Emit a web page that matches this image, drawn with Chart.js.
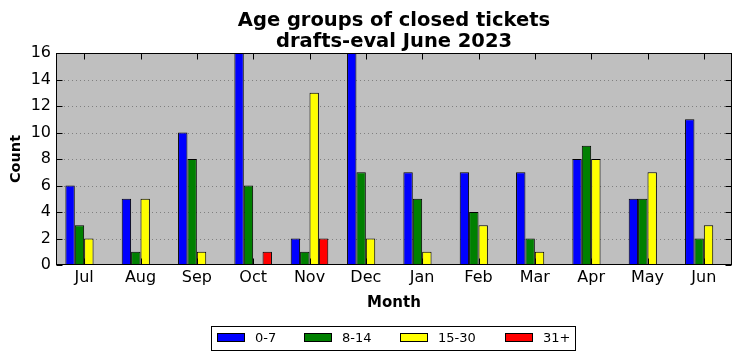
<!DOCTYPE html>
<html><head><meta charset="utf-8">
<script src="https://cdn.jsdelivr.net/npm/chart.js@4"></script>
<style>html,body{margin:0;padding:0;background:#fff;overflow:hidden}</style>
</head><body>
<canvas id="c" width="741" height="361" style="display:block;width:741px;height:361px"></canvas>
<script>
const months = ['Jul','Aug','Sep','Oct','Nov','Dec','Jan','Feb','Mar','Apr','May','Jun'];
const age0to7   = [6,5,10,16,2,16,7,7,7,8,5,11];
const age8to14  = [3,1,8,6,1,7,5,4,2,9,5,2];
const age15to30 = [2,5,1,0,13,2,1,3,1,8,7,3];
const age31plus = [0,0,0,1,2,0,0,0,0,0,0,0];
const seriesLabels = ['0-7','8-14','15-30','31+'];
const seriesColors = ['#0000ff','#008000','#ffff00','#ff0000'];
const yTicks = [0,2,4,6,8,10,12,14,16];
const titleLines = ['Age groups of closed tickets','drafts-eval June 2023'];

const FONT = '"DejaVu Sans", sans-serif';

const deco = {
  id: 'deco',
  beforeDraw(chart) {
    const {ctx, chartArea: a} = chart;
    ctx.save();
    ctx.fillStyle = '#fff';
    ctx.fillRect(0,0,chart.width,chart.height);
    ctx.fillStyle = '#bfbfbf';
    ctx.fillRect(a.left, a.top, a.right - a.left, a.bottom - a.top);
    ctx.restore();
  },
  beforeDatasetsDraw(chart) {
    const {ctx, chartArea: a, scales: {y}} = chart;
    ctx.save();
    ctx.strokeStyle = 'rgba(0,0,0,0.33)';
    ctx.lineWidth = 1;
    ctx.setLineDash([1,3]);
    yTicks.forEach(v => {
      if (v === 0 || v === 16) return;
      const py = Math.round(y.getPixelForValue(v)) + 0.5;
      ctx.beginPath(); ctx.moveTo(a.left, py); ctx.lineTo(a.right, py); ctx.stroke();
    });
    ctx.restore();
  },
  afterDatasetsDraw(chart) {
    const {ctx, chartArea: a, scales: {x, y}} = chart;
    ctx.save();
    ctx.strokeStyle = '#000';
    ctx.lineWidth = 1;
    ctx.setLineDash([]);
    const L = Math.round(a.left)+0.5, R = Math.round(a.right)-0.5, T = Math.round(a.top)+0.5, B = Math.round(a.bottom)-0.5;
    ctx.strokeRect(L, T, R - L, B - T);
    const tl = 6;
    months.forEach((m, i) => {
      const px = Math.round(x.getPixelForValue(i)) + 0.5;
      ctx.beginPath(); ctx.moveTo(px, B); ctx.lineTo(px, B - tl); ctx.stroke();
      ctx.beginPath(); ctx.moveTo(px, T); ctx.lineTo(px, T + tl); ctx.stroke();
    });
    yTicks.forEach(v => {
      const py = Math.round(y.getPixelForValue(v)) + 0.5;
      ctx.beginPath(); ctx.moveTo(L, py); ctx.lineTo(L + tl, py); ctx.stroke();
      ctx.beginPath(); ctx.moveTo(R, py); ctx.lineTo(R - tl, py); ctx.stroke();
    });
    // title
    ctx.fillStyle = '#000';
    ctx.font = 'bold 19.5px ' + FONT;
    ctx.textAlign = 'center';
    ctx.textBaseline = 'alphabetic';
    const cx = (a.left + a.right) / 2;
    ctx.fillText(titleLines[0], cx, 26);
    ctx.fillText(titleLines[1], cx, 47);
    // legend
    ctx.strokeRect(211.5, 326.5, 364, 24);
    const patchX = [217, 304, 400, 505];
    ctx.font = '13px ' + FONT;
    ctx.textAlign = 'left';
    ctx.textBaseline = 'middle';
    chart.data.datasets.forEach((ds, i) => {
      ctx.fillStyle = ds.backgroundColor;
      ctx.fillRect(patchX[i], 333, 28, 9);
      ctx.strokeRect(patchX[i] + 0.5, 333.5, 27, 8);
      ctx.fillStyle = '#000';
      ctx.fillText(ds.label, patchX[i] + 38, 338.5);
    });
    ctx.restore();
  }
};

const datasets = [age0to7, age8to14, age15to30, age31plus].map((d, i) => ({
  label: seriesLabels[i],
  data: d,
  backgroundColor: seriesColors[i],
  borderColor: '#000',
  borderWidth: 1,
  borderSkipped: false,
  inflateAmount: 0,
  categoryPercentage: 0.667,
  barPercentage: 1.0
}));

new Chart(document.getElementById('c'), {
  type: 'bar',
  data: { labels: months, datasets },
  options: {
    responsive: false,
    animation: false,
    devicePixelRatio: 1,
    layout: { padding: { top: 53, right: 9, left: 0, bottom: 46 } },
    plugins: { legend: { display: false }, title: { display: false }, tooltip: { enabled: false } },
    scales: {
      x: {
        grid: { display: false, drawTicks: false },
        border: { display: false },
        ticks: { color: '#000', font: { family: FONT, size: 16 }, padding: 3, maxRotation: 0, autoSkip: false },
        title: { display: true, text: 'Month', color: '#000', font: { family: FONT, size: 15, weight: 'bold' }, padding: { top: 0, bottom: 3 } },
        afterFit(s) { s.height = 50; }
      },
      y: {
        min: 0, max: 16,
        grid: { display: false, drawTicks: false },
        border: { display: false },
        ticks: { stepSize: 2, color: '#000', font: { family: FONT, size: 16 }, padding: 5 },
        title: { display: true, text: 'Count', color: '#000', font: { family: FONT, size: 14.5, weight: 'bold' }, padding: { top: 8, bottom: 0 } },
        afterFit(s) { s.width = 56; }
      }
    }
  },
  plugins: [deco]
});
</script>
</body></html>
